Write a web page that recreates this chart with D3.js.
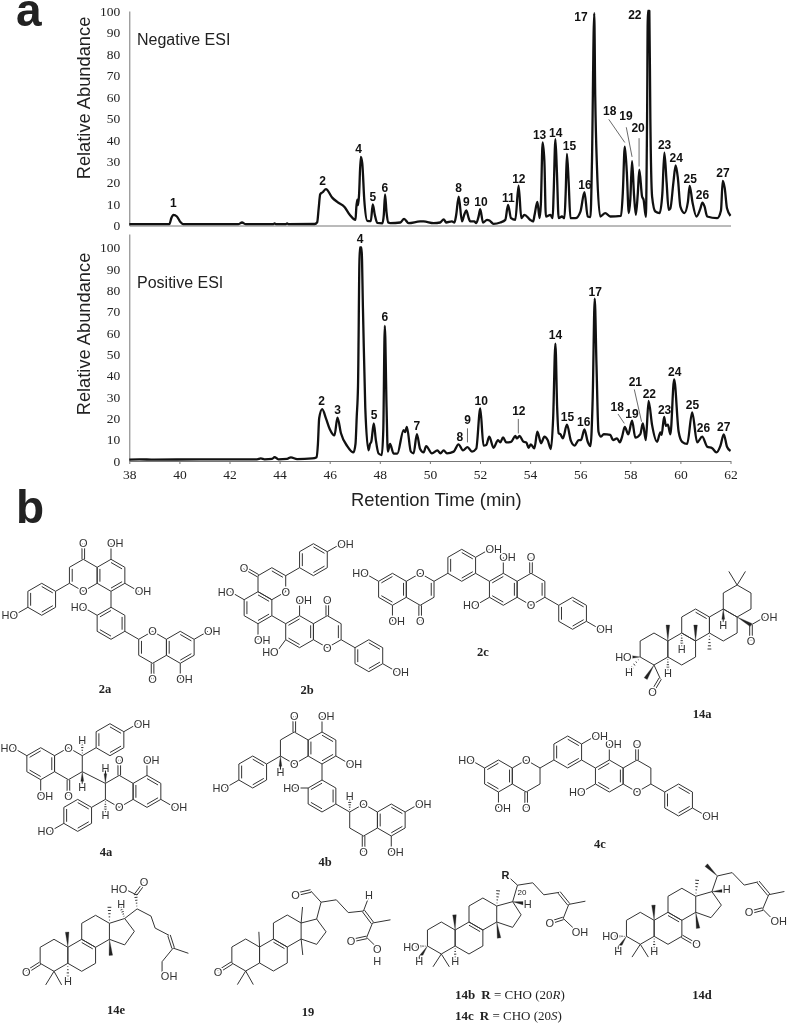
<!DOCTYPE html>
<html>
<head>
<meta charset="utf-8">
<title>Negative and positive ESI chromatograms</title>
<script src="https://d3js.org/d3.v7.min.js"></script>
<style>
body { margin: 0; background: #fff; }
svg { display: block; filter: blur(0.35px); }
.tick text { font-family: "Liberation Serif", serif; font-size: 13.5px; fill: #222; }
.domain { stroke: #777; }
.tick line { stroke: #777; }
.big { font-family: "Liberation Sans", Arial, sans-serif; fill: #222; }
.peak { font-family: "Liberation Sans", Arial, sans-serif; font-weight: bold; font-size: 12px; fill: #111; text-anchor: middle; }
.cmpd { font-family: "Liberation Serif", serif; font-size: 12.5px; fill: #222; }
.atom { font-family: "Liberation Sans", Arial, sans-serif; font-size: 11px; fill: #333; stroke: #fff; stroke-width: 3px; paint-order: stroke; }
</style>
</head>
<body>
<script>
// --- chromatogram traces ---
var negTime = [38,39.6,39.68,39.76,39.9,40.05,40.15,42.35,42.5,42.65,43.75,43.8,43.85,44.25,44.3,44.35,45.4,45.5,45.56,45.62,45.72,45.85,46.1,46.3,46.6,46.8,47.03,47.06,47.1,47.13,47.17,47.24,47.3,47.38,47.5,47.64,47.72,47.8,47.9,48.1,48.16,48.21,48.27,48.34,
  48.42,48.82,48.97,49.15,49.61,49.75,50.15,50.41,50.55,50.65,50.88,50.98,51.05,51.15,51.28,51.37,51.45,51.56,51.61,51.77,51.85,51.94,52.01,52.12,52.28,52.38,52.54,52.81,53.01,53.12,53.24,53.41,53.54,53.65,53.77,54.01,54.12,54.18,54.29,54.38,54.43,54.5,54.57,54.63,54.81,54.9,54.94,55.01,55.07,55.14,55.27,55.37,55.42,55.47,55.54,55.61,55.81,56.01,56.17,56.3,56.41,56.47,56.56,56.6,56.67,56.8,57,57.2,57.63,57.7,57.78,57.86,57.94,58,58.07,58.15,58.22,58.3,58.36,58.47,58.53,58.62,58.67,58.7,58.76,58.8,58.87,59,59.17,59.28,59.36,59.45,59.53,59.6,59.72,59.81,59.9,60,60.16,60.3,60.37,60.48,60.64,60.8,60.88,60.96,61.07,61.47,61.62,61.69,61.77,61.86,62];
var negAbund = [.6,.6,3.5,5,4.2,1.5,.6,.6,1.4,.6,.6,1,.6,.6,1,.6,.7,1.5,8,14.5,15.5,17,13,11,8.5,5,2.6,8,12,9.5,14,32,29,12,2.2,2,9.8,5,1.2,1,5,14.5,6,1.4,
  1.1,1.4,3.1,1.1,1.9,1.9,1.1,1.4,2.9,1.4,1.9,1.4,5,13.5,1.9,5,7,3,1.9,1.9,1.1,4,7.6,1.4,2.6,2.3,.8,1.4,2.6,9.6,3.4,2.6,18.6,3.4,5,2.6,1.9,5,11,3.4,10,38.7,30,4.2,5,3.4,15,40.2,25,3.4,4.2,3.4,15,33.4,20,3.4,3.4,6.5,15.5,4.2,3.9,30,99,60,27,4.2,5.8,4.2,4.5,15,36.8,25,5.8,12,30,14,5,15,26,13.5,12,4,50,100,100,50,13.5,6.5,5.8,15,34,20,7.3,8,20,28,22,8.8,5.8,11,18.5,11,4.2,8,10.7,9,4.2,3.4,7,20.8,17.4,8,4.5];
var posTime = [38,38.4,39,40.8,41.6,43.1,43.25,43.4,43.7,43.8,43.95,44.3,44.45,44.7,45.3,45.48,45.53,45.58,45.7,45.85,46,46.19,46.31,46.45,46.7,46.95,47.03,47.08,47.13,47.2,47.27,47.33,47.42,47.55,47.61,47.66,47.76,47.84,47.95,48.08,48.14,48.2,48.27,48.32,48.41,
  48.55,48.7,48.95,49.01,49.08,49.24,49.35,49.48,49.61,49.75,49.85,50.08,50.3,50.42,50.55,50.68,50.95,51.14,51.32,51.5,51.68,51.85,52.01,52.14,52.25,52.37,52.54,52.72,52.81,52.92,53.05,53.24,53.41,53.47,53.58,53.74,53.85,53.94,54.03,54.17,54.29,54.44,54.57,54.7,54.83,54.92,55.01,55.08,55.14,55.21,55.31,55.47,55.63,55.78,55.94,56.03,56.17,56.3,56.41,56.5,56.58,56.65,56.73,56.83,56.94,57.2,57.31,57.47,57.58,57.67,57.78,57.92,58.07,58.2,58.4,58.5,58.62,58.73,58.87,59.07,59.2,59.25,59.35,59.42,59.5,59.6,59.75,59.93,60.07,60.27,60.47,60.67,60.87,61.07,61.27,61.44,61.6,61.73,61.86,62];
var posAbund = [.6,.8,.6,.8,.8,.8,1.2,.8,1,1.8,.8,1,1.7,.9,1.2,1.8,8,20,24.3,20,15,12,20.3,13,7,4,8,21,35,100,100,70,25,5,8,9,17.6,10,3.5,2.8,15,63.3,25,4.4,8,
  3.5,3.5,14.5,13.5,16,4.4,3.6,12.6,5.6,4,7,3.6,5,3.6,5,3.6,4.4,7.8,5,6.5,4.4,5.8,24.6,7.2,7.5,11.4,6.2,9.8,8.7,11,8.7,9,11.7,10.6,11.7,9,8.7,6.2,7.8,5.9,13.7,8.3,11.4,9.8,5.6,20,55,25,13,12.5,10.6,17,9.4,7.2,9.8,9.8,14.8,9,7,30,76,45,13.7,11.4,12.6,12.2,9.8,10.6,8.7,11.3,16,12.5,18.9,10.9,12.6,17.6,9.8,28.2,16.8,9,13.4,12.2,20.7,16.5,17,12.5,38.2,13.7,9,8,22.8,8.7,11.4,6.7,6,4,7.2,12.5,6.7,4.7];

// peak labels: number, time, abundance of the label centre
var negPeakNames = ["1","2","4","5","6","8","9","10","11","12","13","14","15","16","17","18","19","20","22","23","24","25","26","27"];
var negPeakTime = [39.76,45.72,47.15,47.72,48.2,51.15,51.45,52.04,53.13,53.55,54.38,55.02,55.57,56.19,56.03,57.18,57.83,58.31,58.18,59.37,59.83,60.39,60.88,61.7];
var negPeakAbund = [10.7,20.8,36,13.5,17.7,17.4,10.9,11.2,13.2,22,42.2,43.5,37.1,18.9,97.4,53.6,51,45.8,98.4,37.9,31.8,22,14.3,24.7];
var posPeakNames = ["2","3","4","5","6","7","8","9","10","12","14","15","16","17","18","19","21","22","23","24","25","26","27"];
var posPeakTime = [45.68,46.32,47.21,47.77,48.2,49.48,51.2,51.5,52.05,53.55,55.01,55.49,56.14,56.6,57.48,58.07,58.2,58.76,59.37,59.77,60.48,60.92,61.73];
var posPeakAbund = [28.2,24.2,103.9,21.5,67.6,16.5,11.4,19.5,28.2,23.6,59,20.7,18.4,79.3,25.3,22.3,37.1,31.5,24.2,41.8,26.5,15.6,16.2];
// leader lines: t1, v1, t2, v2
var negLeaders = [[57.14,49.5,57.78,38.7],[57.84,45.8,58.07,32],[58.35,40.7,58.35,27.5]];
var posLeaders = [[51.5,15.3,51.5,8.7],[53.53,19.7,53.53,12.9],[57.51,22,57.76,17.6],[58.16,33.5,58.45,18.4]];

// --- structures: lattice coordinates, rings are [i, j, double edges], bonds [i1, j1, i2, j2, type] ---
var mol2a = {origin:[111,575.3],
  rings:[[0,0,[0,2,4]],[-2,0,[4]],[-5,3,[0,2,4]],[0,6,[1,3,5]],[3,9,[4]],[5,9,[0,2,4]]],
  bonds:[[-3,1,-4,2],[-2,-2,-2,-4,"d"],[0,-2,0,-4],[1,1,2,2],[0,2,0,4],[-6,4,-7,5],[-1,5,-2,4],[1,7,2,8],[6,8,7,7],[3,11,3,13,"d"],[5,11,5,13]],
  labels:[[-2,2,"O"],[-2,-4,"O"],[0,-4,"OH"],[2,2,"OH"],[-7,5,"HO"],[-2,4,"HO"],[3,7,"O"],[7,7,"OH"],[3,13,"O"],[5,13,"OH"]]};
var mol2b = {origin:[258,607.7],
  rings:[[0,0,[0,2,4]],[1,-3,[0]],[4,-6,[0,2,4]],[3,3,[1,3,5]],[5,3,[1]],[8,6,[0,2,4]]],
  bonds:[[2,-4,3,-5],[5,-7,6,-8],[0,-4,-1,-5,"d"],[-1,-1,-2,-2],[0,2,0,4],[1,1,2,2],[3,1,3,-1],[5,1,5,-1,"d"],[2,4,1.4,5.4],[6,4,7,5],[9,7,10,8]],
  labels:[[2,-2,"O"],[-1,-5,"O"],[-2,-2,"HO"],[0,4,"OH"],[3,-1,"OH"],[5,-1,"O"],[1.2,5.6,"HO"],[5,5,"O"],[10,8,"OH"],[6,-8,"OH"]]};
var mol2c = {origin:[503.3,589.3],
  rings:[[0,0,[1,3,5]],[2,0,[1]],[5,3,[0,2,4]],[-3,-3,[0,2,4]],[-6,0,[1]],[-8,0,[1,3,5]]],
  bonds:[[2,-2,2,-4,"d"],[0,-2,0,-4],[-1,1,-2,2],[3,1,4,2],[6,4,7,5],[-1,-1,-2,-2],[-2,-4,-1,-5],[-4,-2,-5,-1],[-6,2,-6,4,"d"],[-8,2,-8,4],[-9,-1,-10,-2]],
  labels:[[2,2,"O"],[2,-4,"O"],[0,-4,"OH"],[-2,2,"HO"],[7,5,"OH"],[-1,-5,"OH"],[-6,-2,"O"],[-6,4,"O"],[-8,4,"OH"],[-10,-2,"HO"]]};
var mol4c = {origin:[609.3,776],
  rings:[[0,0,[1,3,5]],[2,0,[]],[5,3,[0,2,4]],[-3,-3,[0,2,4]],[-6,0,[]],[-8,0,[1,3,5]]],
  bonds:mol2c.bonds, labels:mol2c.labels};
var mol4b = {origin:[322,748],
  rings:[[0,0,[0,2,4]],[-2,0,[]],[-5,3,[0,2,4]],[0,6,[1,3,5]],[3,9,[]],[5,9,[0,2,4]]],
  bonds:[[-3,1,-4,2],[-3,1,-3,2.7,"w"],[-2,-2,-2,-4,"d"],[0,-2,0,-4],[1,1,2,2],[0,2,0,4],[-6,4,-7,5],[-1,5,-2,5],[1,7,2,8],[2,8,2,6.5,"h"],[3,11,3,13,"d"],[5,11,5,13],[6,8,7,7]],
  labels:[[-3,3,"H"],[-2,2,"O"],[-2,-4,"O"],[0,-4,"OH"],[2,2,"OH"],[-7,5,"HO"],[-1.9,5,"HO"],[2,6,"H"],[3,7,"O"],[3,13,"O"],[5,13,"OH"],[7,7,"OH"]]};
var mol4a = {origin:[40.7,763.7],
  rings:[[0,0,[1,3,5]],[2,0,[]],[5,-3,[0,2,4]],[5.67,3.46,[]],[7.67,3.46,[0,2,4]],[2.67,6.46,[0,2,4]]],
  bonds:[[-1,-1,-2,-2],[0,2,0,4],[2,2,2,4,"d"],[3,-1,4,-2],[6,-4,7,-5],[3,-1,3,-2.7,"h"],[3,1,3,2.5,"w"],[3,1,4.67,2.46],[4.67,2.46,4.67,.8,"w"],[5.67,1.46,5.67,-.5,"d"],[7.67,1.46,7.67,-.5],[8.67,4.46,9.67,5.46],[4.67,4.46,4.67,6,"h"],[4.67,4.46,3.67,5.46],[1.67,7.46,.67,8.46]],
  labels:[[-2,-2,"HO"],[0,4,"OH"],[2,-2,"O"],[2,4,"O"],[7,-5,"OH"],[3,-3,"H"],[3,2.9,"H"],[4.67,.5,"H"],[5.67,-.5,"O"],[7.67,-.5,"OH"],[9.67,5.46,"OH"],[5.67,5.46,"O"],[4.67,6.4,"H"],[.67,8.46,"HO"]]};
var mol14a = {origin:[654,649],
  rings:[[0,0,[]],[2,0,[]],[3,-3,[0]],[5,-3,[]],[6,-6,[]]],
  bonds:[[6,-8,5.4,-9.7],[6,-8,6.6,-9.7],[1,-1,1,-3,"w"],[3,-1,3,-3,"w"],[4,-2,4,0,"h"],[5,-5,5,-3.4,"w"],[2,-2,2,-.4,"h"],[1,1,1,2.6,"h"],[-1,1,-1.8,1,"w"],[-1,1,-1.7,2.6,"h"],[0,2,-.6,3.7,"w"],[0,2,.45,3.7],[.45,3.7,-.1,5.3,"d"],[6,-4,7,-3,"w"],[7,-3,8,-4],[7,-3,7,-1,"d"]],
  labels:[[5,-3,"H"],[2,0,"H"],[1,3,"H"],[-1.9,1,"HO"],[-1.8,2.9,"H"],[-.1,5.4,"O"],[8,-4,"OH"],[7,-1,"O"]]};
var mol14e = {origin:[54,955.3],
  rings:[[0,0,[]],[2,0,[0]],[3,-3,[]]],
  bonds:[[4,-4,5.1,-4.6],[5.1,-4.6,5.8,-3],[5.8,-3,5.1,-1.3],[5.1,-1.3,4,-2],[-1,1,-2,2.1,"d"],[0,2,-.6,3.7],[0,2,.55,3.7],[1,1,1,3,"h"],[1,-1,.95,-2.9,"w"],[4,-4,4,-6,"h"],[4,-2,4.1,0,"w"],[5.1,-4.6,4.85,-6,"h"],[5.1,-4.6,6,-5.8],[6,-5.8,7,-4.9],[7,-4.9,7.3,-3.4],[7.3,-3.4,8.3,-2.5],[8.3,-2.5,8.6,-.9,"d"],[8.6,-.9,9.7,-.25],[8.6,-.9,7.8,.8],[7.8,.8,7.8,2.1],[6,-5.8,5.9,-7.6,"h"],[5.9,-7.6,5.2,-8.2],[5.9,-7.6,6.5,-9,"d"]],
  labels:[[1,3.2,"H"],[-2,2.1,"O"],[4.85,-6.4,"H"],[8,2.6,"OH"],[5,-8.25,"HO"],[6.5,-9.1,"O"]]};
var mol19 = {origin:[245.7,955],
  rings:[[0,0,[]],[2,0,[0]],[3,-3,[]]],
  bonds:[[4,-4,5.12,-4.5],[5.12,-4.5,5.8,-2.9],[5.8,-2.9,5.12,-1.33],[5.12,-1.33,4,-2],[-1,1,-2,2.1,"d"],[0,2,-.6,3.7],[0,2,.55,3.7],[1,-1,.95,-2.9],[4,-4,4.1,-6],[4,-2,4.12,0],[5.12,-4.5,5.44,-6.6],[5.44,-6.6,6.54,-6.9],[6.54,-6.9,7.4,-5.3],[7.4,-5.3,8.5,-5.5],[8.5,-5.5,9.15,-4,"d"],[9.15,-4,10.45,-4.4],[8.5,-5.5,8.85,-7.1],[9.15,-4,8.73,-2.2],[8.73,-2.2,7.65,-1.8,"d"],[8.73,-2.2,9.5,-.9],[5.44,-6.6,4.7,-8],[4.7,-8,3.7,-7.6,"d"]],
  labels:[[-2,2.1,"O"],[8.9,-7.5,"H"],[7.6,-1.8,"O"],[9.5,-.75,"O"],[9.5,.75,"H"],[3.6,-7.5,"O"]]};
var mol14b = {origin:[441.3,938],
  rings:[[0,0,[]],[2,0,[0]],[3,-3,[]]],
  bonds:[[4,-4,5.15,-4.54],[5.15,-4.54,5.76,-2.9],[5.76,-2.9,5.15,-1.33],[5.15,-1.33,4,-2],[4,-4,4.1,-5.9,"h"],[4,-2,4.17,0,"w"],[5.15,-4.54,6,-4.33,"w"],[5.15,-4.54,5.5,-6.6],[5.5,-6.6,6.6,-6.9],[6.6,-6.9,7.4,-5.4],[7.4,-5.4,8.5,-5.7],[8.5,-5.7,9.2,-4.2,"d"],[9.2,-4.2,10.4,-4.6],[9.2,-4.2,8.8,-2.45],[8.8,-2.45,7.9,-1.95,"d"],[8.8,-2.45,9.5,-1.3],[5.5,-6.6,5,-7.4],[-1,1,-1.8,1.05,"h"],[-1,1,-1.6,2.6,"w"],[0,2,-.6,3.6],[0,2,.58,3.6],[1,-1,.95,-2.9,"w"],[1,1,1,2.7,"h"]],
  labels:[[6.24,-4.25,"H"],[7.83,-1.9,"O"],[9.7,-.8,"OH"],[-1.85,1.08,"HO"],[-1.6,2.9,"H"],[1,2.9,"H"]]};
var mol14d = {origin:[640.3,928.3],
  rings:[[0,0,[]],[2,0,[0]],[3,-3,[]]],
  bonds:[[4,-4,5.17,-4.58],[5.17,-4.58,5.85,-2.9],[5.85,-2.9,5.1,-1.33],[5.1,-1.33,4,-2],[4,-4,4.1,-6,"h"],[4,-2,4.17,0,"w"],[5.17,-4.58,6.05,-4.7,"w"],[5.17,-4.58,5.56,-6.54],[5.56,-6.54,6.63,-6.96],[6.63,-6.96,7.5,-5.4],[7.5,-5.4,8.5,-5.8],[8.5,-5.8,9.27,-4.2,"d"],[9.27,-4.2,10.4,-4.6],[5.56,-6.54,4.76,-7.9,"w"],[9.27,-4.2,8.83,-2.4],[8.83,-2.4,7.95,-2,"d"],[8.83,-2.4,9.4,-1.4],[3,1,4,2,"d"],[-1,1,-1.8,1,"h"],[-1,1,-1.6,2.6,"w"],[0,2,-.6,3.6],[0,2,.58,3.6],[1,-1,.95,-2.9,"w"],[1,1,1,2.7,"h"]],
  labels:[[6.24,-4.88,"H"],[7.85,-2,"O"],[9.68,-.9,"OH"],[4.05,2,"O"],[-1.85,1,"HO"],[-1.6,2.9,"H"],[1,2.9,"H"]]};
var molecules = [mol2a,mol2b,mol2c,mol4a,mol4b,mol4c,mol14a,mol14e,mol19,mol14b,mol14d];

var compoundNames = ["2a","2b","2c","14a","4a","4b","4c","14e","19","14d"];
var compoundX = [105,307,483,702,106,325,600,116,308,702];
var compoundY = [693,694,656,718,856,866,848,1014,1016,999];

var width = 787, height = 1025;
var svg = d3.select("body").append("svg").attr("width", width).attr("height", height);

var x = d3.scaleLinear().domain([38,62]).range([129.3,730.5]);
var yNeg = d3.scaleLinear().domain([0,100]).range([225.5,11]);
var yPos = d3.scaleLinear().domain([0,106.3]).range([461,234]);

function zip(a, b) { return a.map(function(d, i) { return [d, b[i]]; }); }

function panel(y, time, abund, names, ptime, pabund, leaders, xAxis) {
  var g = svg.append("g");
  g.append("g").attr("transform", "translate(" + x.range()[0] + ",0)")
    .call(d3.axisLeft(y).tickValues(d3.range(0,101,10)).tickSize(0).tickPadding(9));
  g.append("g").attr("transform", "translate(0," + y(0) + ")").call(xAxis);
  var line = d3.line().x(function(d) { return x(d[0]); }).y(function(d) { return y(d[1]); }).curve(d3.curveMonotoneX);
  g.append("path").datum(zip(time, abund))
    .attr("d", line).attr("fill", "none").attr("stroke", "#111")
    .attr("stroke-width", 2.3).attr("stroke-linejoin", "round");
  g.selectAll(".lead").data(leaders).enter().append("line")
    .attr("x1", function(d) { return x(d[0]); }).attr("y1", function(d) { return y(d[1]); })
    .attr("x2", function(d) { return x(d[2]); }).attr("y2", function(d) { return y(d[3]); })
    .attr("stroke", "#444").attr("stroke-width", 0.8);
  g.selectAll(".peak").data(names).enter().append("text").attr("class", "peak")
    .attr("x", function(d, i) { return x(ptime[i]); })
    .attr("y", function(d, i) { return y(pabund[i]); })
    .attr("dy", "0.36em").text(function(d) { return d; });
}

panel(yNeg, negTime, negAbund, negPeakNames, negPeakTime, negPeakAbund, negLeaders,
  d3.axisBottom(x).tickValues([]).tickSize(0));
panel(yPos, posTime, posAbund, posPeakNames, posPeakTime, posPeakAbund, posLeaders,
  d3.axisBottom(x).tickValues(d3.range(38,63,2)).tickSize(3).tickSizeOuter(0).tickPadding(5));

function bigText(tx, ty, size, txt, weight) {
  return svg.append("text").attr("class", "big").attr("x", tx).attr("y", ty)
    .attr("font-size", size).attr("font-weight", weight || "normal").text(txt);
}
bigText(16, 26, 46, "a", "bold");
bigText(16, 523, 46, "b", "bold");
bigText(137, 45, 16, "Negative ESI");
bigText(137, 288, 16, "Positive ESI");
bigText(351, 506, 18.4, "Retention Time (min)");
[98, 334].forEach(function(cy) {
  svg.append("text").attr("class", "big").attr("font-size", 18.3).attr("text-anchor", "middle")
    .attr("transform", "translate(90," + cy + ") rotate(-90)").text("Relative Abundance");
});

// structures
function drawMolecule(m) {
  var s = 16;
  var ix = d3.scaleLinear().domain([0,1]).range([m.origin[0], m.origin[0] + s * 0.866]);
  var jy = d3.scaleLinear().domain([0,1]).range([m.origin[1], m.origin[1] + s / 2]);
  var g = svg.append("g").attr("stroke", "#333").attr("stroke-width", 1).attr("fill", "none");
  function seg(x1, y1, x2, y2) {
    g.append("line").attr("x1", x1).attr("y1", y1).attr("x2", x2).attr("y2", y2);
  }
  var verts = [[0,-2],[1,-1],[1,1],[0,2],[-1,1],[-1,-1]];
  m.rings.forEach(function(r) {
    var cx = ix(r[0]), cy = jy(r[1]);
    var p = verts.map(function(v) { return [ix(r[0] + v[0]), jy(r[1] + v[1])]; });
    g.append("polygon").attr("points", p.join(" "));
    r[2].forEach(function(e) {
      var a = p[e], b = p[(e + 1) % 6], k = 0.2;
      var a2 = [a[0] + (cx - a[0]) * k, a[1] + (cy - a[1]) * k];
      var b2 = [b[0] + (cx - b[0]) * k, b[1] + (cy - b[1]) * k];
      seg(a2[0], a2[1], b2[0], b2[1]);
    });
  });
  m.bonds.forEach(function(b) {
    var x1 = ix(b[0]), y1 = jy(b[1]), x2 = ix(b[2]), y2 = jy(b[3]);
    var len = Math.hypot(x2 - x1, y2 - y1), nx = -(y2 - y1) / len, ny = (x2 - x1) / len;
    if (b[4] == "d") {
      seg(x1 + nx * 1.3, y1 + ny * 1.3, x2 + nx * 1.3, y2 + ny * 1.3);
      seg(x1 - nx * 1.3, y1 - ny * 1.3, x2 - nx * 1.3, y2 - ny * 1.3);
    } else if (b[4] == "w") {
      g.append("polygon").attr("fill", "#222").attr("stroke-width", 0.3)
        .attr("points", [[x1, y1], [x2 + nx * 1.8, y2 + ny * 1.8], [x2 - nx * 1.8, y2 - ny * 1.8]].join(" "));
    } else if (b[4] == "h") {
      d3.range(1, 6).forEach(function(n) {
        var t = n / 5, w = 1.9 * t;
        var mx = x1 + (x2 - x1) * t, my = y1 + (y2 - y1) * t;
        seg(mx + nx * w, my + ny * w, mx - nx * w, my - ny * w);
      });
    } else {
      seg(x1, y1, x2, y2);
    }
  });
  var labels = svg.append("g");
  m.labels.forEach(function(l) {
    var anchor = l[2] == "OH" ? "start" : l[2] == "HO" ? "end" : "middle";
    var off = l[2] == "OH" ? -4 : l[2] == "HO" ? 4 : 0;
    labels.append("text").attr("class", "atom").attr("x", ix(l[0]) + off).attr("y", jy(l[1]))
      .attr("dy", "0.36em").attr("text-anchor", anchor).text(l[2]);
  });
}
molecules.forEach(drawMolecule);

// "20" locant of 14b
svg.append("text").attr("class", "big").attr("font-size", 8).attr("x", 517.5).attr("y", 894.5).text("20");
// "R" of 14b
svg.append("text").attr("class", "big").attr("font-size", 11).attr("font-weight", "bold").attr("text-anchor", "middle").attr("x", 505.5).attr("y", 879).text("R");

svg.selectAll(".name").data(compoundNames).enter().append("text").attr("class", "cmpd")
  .attr("font-weight", "bold").attr("text-anchor", "middle")
  .attr("x", function(d, i) { return compoundX[i]; })
  .attr("y", function(d, i) { return compoundY[i]; })
  .text(function(d) { return d; });

// 14b / 14c captions
var captionRows = [["14b","20","R",999],["14c","20","S",1020]];
captionRows.forEach(function(c) {
  var t = svg.append("text").attr("class", "cmpd").attr("font-size", 13).style("font-size", "13px").attr("x", 455).attr("y", c[3]);
  t.append("tspan").attr("font-weight", "bold").text(c[0]);
  t.append("tspan").attr("font-weight", "bold").attr("dx", 6).text("R");
  t.append("tspan").text(" = CHO (" + c[1]);
  t.append("tspan").attr("font-style", "italic").text(c[2]);
  t.append("tspan").text(")");
});
</script>
</body>
</html>
